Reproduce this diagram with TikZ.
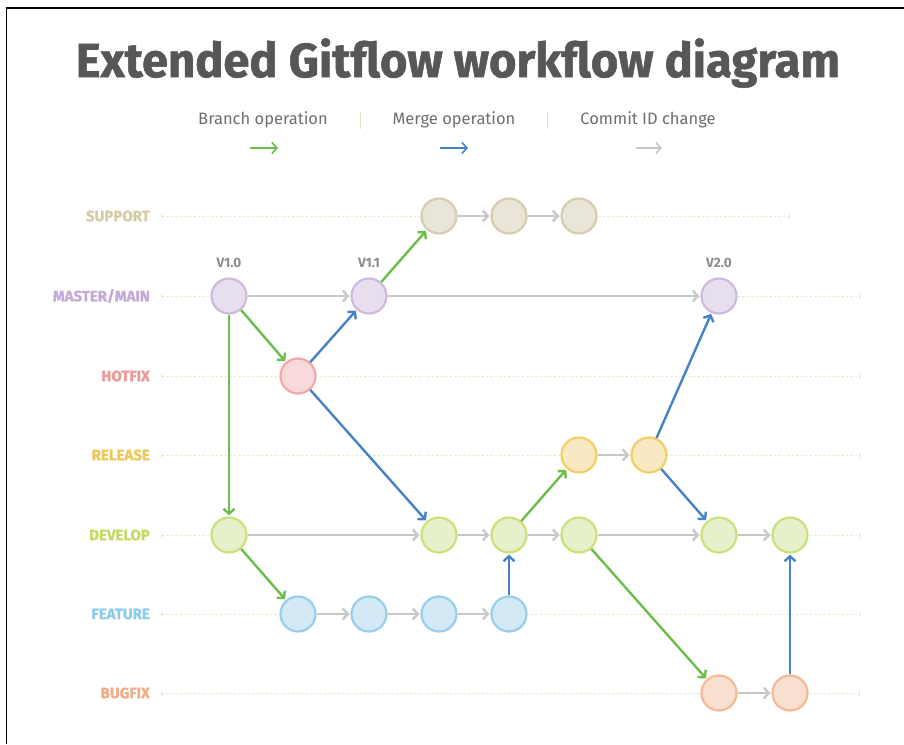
\documentclass[tikz,border=0pt]{standalone}
\usepackage{fontspec}
\setmainfont{Fira Sans}
\newfontfamily\heavyfont[BoldFeatures={FakeBold=1.2}]{Fira Sans}
\usetikzlibrary{arrows.meta}

\definecolor{titlegray}{RGB}{87,87,87}
\definecolor{textgray}{RGB}{110,110,110}
\definecolor{versgray}{RGB}{140,140,140}
\definecolor{sepbeige}{RGB}{232,222,196}
\definecolor{laneline}{RGB}{238,230,200}
\definecolor{branchgreen}{RGB}{108,190,74}
\definecolor{mergeblue}{RGB}{70,130,200}
\definecolor{cidgray}{RGB}{200,200,200}
\definecolor{supfill}{RGB}{233,229,217}
\definecolor{supbd}{RGB}{214,205,176}
\definecolor{suptxt}{RGB}{213,204,165}
\definecolor{mastfill}{RGB}{231,223,238}
\definecolor{mastbd}{RGB}{206,186,222}
\definecolor{masttxt}{RGB}{196,170,214}
\definecolor{hotfill}{RGB}{248,218,218}
\definecolor{hotbd}{RGB}{240,168,168}
\definecolor{hottxt}{RGB}{238,152,152}
\definecolor{relfill}{RGB}{248,233,194}
\definecolor{relbd}{RGB}{240,207,100}
\definecolor{reltxt}{RGB}{238,200,88}
\definecolor{devfill}{RGB}{230,240,202}
\definecolor{devbd}{RGB}{202,225,122}
\definecolor{devtxt}{RGB}{194,219,102}
\definecolor{featfill}{RGB}{211,233,245}
\definecolor{featbd}{RGB}{152,206,235}
\definecolor{feattxt}{RGB}{140,203,235}
\definecolor{bugfill}{RGB}{249,223,207}
\definecolor{bugbd}{RGB}{242,186,150}
\definecolor{bugtxt}{RGB}{240,172,136}

\begin{document}
\begin{tikzpicture}[x=1pt,y=-1pt,
  lanelabel/.style={anchor=east, inner sep=0pt, font=\heavyfont\fontsize{15}{17}\selectfont\bfseries},
  lane/.style={draw=laneline, line width=0.8pt, dash pattern=on 2.5pt off 2pt,
    {Bar[width=5pt]}-{Bar[width=5pt]}},
  commit/.style={circle, line width=2.2pt, minimum size=35pt, inner sep=0pt},
  version/.style={text=versgray, font=\fontsize{13.5}{15}\selectfont\bfseries},
  legend/.style={text=textgray, font=\fontsize{16.5}{19}\selectfont},
  cid/.style={draw=cidgray, line width=2.4pt, shorten >=1pt,
    -{Straight Barb[length=5pt,width=11pt]}},
  branchop/.style={cid, draw=branchgreen},
  mergeop/.style={cid, draw=mergeblue}]
\useasboundingbox (0,0) rectangle (904,744);
\draw[line width=1.3pt] (6.5,744) -- (6.5,8) -- (904,8);

% title and legend
\node(Title) at (458,63) {\heavyfont\fontsize{48}{56}\selectfont\bfseries\color{titlegray}\scalebox{0.98}[1]{Extended Gitflow workflow diagram}};
\node(LBranch)[legend] at (263,120) {Branch operation};
\node(LMerge)[legend] at (454,120) {Merge operation};
\node(LCid)[legend] at (648,120) {Commit ID change};
\draw[sepbeige, line width=1pt] (360,112) -- (360,129);
\draw[sepbeige, line width=1pt] (547,112) -- (547,129);
\coordinate(BrA) at (250,148); \coordinate(BrB) at (278,148);
\coordinate(MeA) at (440,148); \coordinate(MeB) at (468,148);
\coordinate(CiA) at (636,148); \coordinate(CiB) at (662,148);
\draw[branchop, line width=1.6pt, shorten >=0pt] (BrA) -- (BrB);
\draw[mergeop, line width=1.6pt, shorten >=0pt] (MeA) -- (MeB);
\draw[cid, line width=1.6pt, shorten >=0pt] (CiA) -- (CiB);

% lanes
\node(LSup)[lanelabel, text=suptxt] at (150,216) {SUPPORT};
\node(LMast)[lanelabel, text=masttxt] at (150,296) {MASTER/MAIN};
\node(LHot)[lanelabel, text=hottxt] at (150,376) {HOTFIX};
\node(LRel)[lanelabel, text=reltxt] at (150,455) {RELEASE};
\node(LDev)[lanelabel, text=devtxt] at (150,535) {DEVELOP};
\node(LFeat)[lanelabel, text=feattxt] at (150,614) {FEATURE};
\node(LBug)[lanelabel, text=bugtxt] at (150,693) {BUGFIX};
\draw[lane] (161,216) -- (790,216);
\draw[lane] (161,296) -- (860,296);
\draw[lane] (161,376) -- (860,376);
\draw[lane] (161,455) -- (860,455);
\draw[lane] (161,535) -- (860,535);
\draw[lane] (161,614) -- (860,614);
\draw[lane] (161,693) -- (860,693);

% commits
\node(Sup1)[commit, draw=supbd, fill=supfill] at (439,216) {};
\node(Sup2)[commit, draw=supbd, fill=supfill] at (509,216) {};
\node(Sup3)[commit, draw=supbd, fill=supfill] at (579,216) {};
\node(Mast1)[commit, draw=mastbd, fill=mastfill] at (229,296) {};
\node(Mast2)[commit, draw=mastbd, fill=mastfill] at (369,296) {};
\node(Mast3)[commit, draw=mastbd, fill=mastfill] at (719,296) {};
\node(Hot1)[commit, draw=hotbd, fill=hotfill] at (298,376) {};
\node(Rel1)[commit, draw=relbd, fill=relfill] at (579,455) {};
\node(Rel2)[commit, draw=relbd, fill=relfill] at (649,455) {};
\node(Dev1)[commit, draw=devbd, fill=devfill] at (229,535) {};
\node(Dev2)[commit, draw=devbd, fill=devfill] at (439,535) {};
\node(Dev3)[commit, draw=devbd, fill=devfill] at (509,535) {};
\node(Dev4)[commit, draw=devbd, fill=devfill] at (579,535) {};
\node(Dev5)[commit, draw=devbd, fill=devfill] at (719,535) {};
\node(Dev6)[commit, draw=devbd, fill=devfill] at (790,535) {};
\node(Feat1)[commit, draw=featbd, fill=featfill] at (298,614) {};
\node(Feat2)[commit, draw=featbd, fill=featfill] at (369,614) {};
\node(Feat3)[commit, draw=featbd, fill=featfill] at (439,614) {};
\node(Feat4)[commit, draw=featbd, fill=featfill] at (509,614) {};
\node(Bug1)[commit, draw=bugbd, fill=bugfill] at (719,693) {};
\node(Bug2)[commit, draw=bugbd, fill=bugfill] at (790,693) {};

\node(V10)[version] at (229,263) {V1.0};
\node(V11)[version] at (369,263) {V1.1};
\node(V20)[version] at (719,263) {V2.0};

% commit id changes
\draw[cid] (Sup1) -- (Sup2);
\draw[cid] (Sup2) -- (Sup3);
\draw[cid] (Mast1) -- (Mast2);
\draw[cid] (Mast2) -- (Mast3);
\draw[cid] (Rel1) -- (Rel2);
\draw[cid] (Dev1) -- (Dev2);
\draw[cid] (Dev2) -- (Dev3);
\draw[cid] (Dev3) -- (Dev4);
\draw[cid] (Dev4) -- (Dev5);
\draw[cid] (Dev5) -- (Dev6);
\draw[cid] (Feat1) -- (Feat2);
\draw[cid] (Feat2) -- (Feat3);
\draw[cid] (Feat3) -- (Feat4);
\draw[cid] (Bug1) -- (Bug2);

% branches
\draw[branchop] (Mast1) -- (Hot1);
\draw[branchop] (Mast1) -- (Dev1);
\draw[branchop] (Mast2) -- (Sup1);
\draw[branchop] (Dev1) -- (Feat1);
\draw[branchop] (Dev3) -- (Rel1);
\draw[branchop] (Dev4) -- (Bug1);

% merges
\draw[mergeop] (Hot1) -- (Mast2);
\draw[mergeop] (Hot1) -- (Dev2);
\draw[mergeop] (Feat4) -- (Dev3);
\draw[mergeop] (Rel2) -- (Mast3);
\draw[mergeop] (Rel2) -- (Dev5);
\draw[mergeop] (Bug2) -- (Dev6);
\end{tikzpicture}
\end{document}
